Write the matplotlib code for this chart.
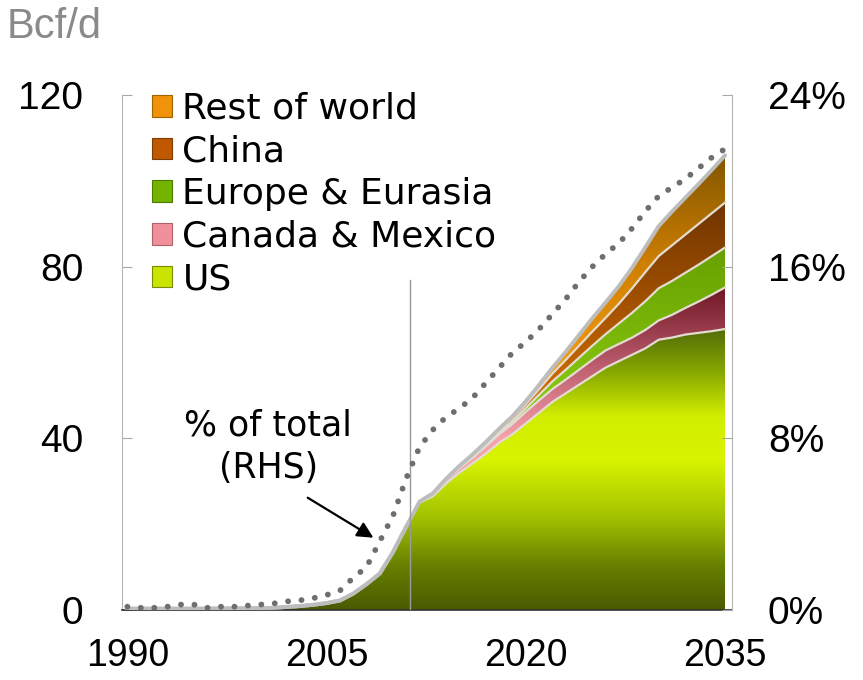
import numpy as np
import matplotlib
matplotlib.use("Agg")
import matplotlib.pyplot as plt
from matplotlib.colors import LinearSegmentedColormap
from matplotlib.patches import Patch

plt.rcParams['font.family'] = ['Liberation Sans', 'DejaVu Sans']

years = list(range(1990, 2036))

us = [0.3, 0.3, 0.3, 0.3, 0.3, 0.3, 0.3, 0.35, 0.35, 0.4,
      0.4, 0.5, 0.7, 0.9, 1.2, 1.6, 2.2, 3.8, 6.0, 8.5,
      13.5, 19.5, 25.0, 26.5, 29.5, 32.0, 34.2, 36.5, 39.0, 41.0,
      43.5, 46.0, 48.5, 50.5, 52.5, 54.5, 56.5, 58.0, 59.5, 61.0,
      63.0, 63.5, 64.2, 64.6, 65.0, 65.5]
canada_mexico = [0.0] * 22 + [0.2, 0.4, 0.7, 1.0, 1.3, 1.7, 2.0, 2.4,
                              2.7, 2.9, 3.0, 3.2, 3.5, 3.8, 4.0, 4.0, 4.0, 4.3,
                              4.5, 5.3, 6.2, 7.3, 8.5, 9.7]
europe_eurasia = [0.0] * 22 + [0.0, 0.1, 0.1, 0.2, 0.2, 0.3, 0.4, 0.6,
                               0.9, 1.3, 1.8, 2.3, 2.8, 3.3, 3.8, 4.8, 5.8, 6.7,
                               7.5, 7.9, 8.2, 8.6, 9.0, 9.3]
china = [0.0] * 22 + [0.0, 0.1, 0.1, 0.2, 0.3, 0.4, 0.5, 0.7,
                      0.9, 1.3, 1.8, 2.3, 2.8, 3.3, 3.8, 4.6, 5.7, 6.8,
                      7.5, 8.3, 8.9, 9.5, 10.0, 10.5]
rest_of_world = [0.0] * 22 + [0.1, 0.1, 0.2, 0.2, 0.3, 0.3, 0.4, 0.5,
                              0.7, 1.0, 1.4, 1.9, 2.5, 3.1, 3.6, 4.1, 4.8, 5.8,
                              7.0, 7.9, 8.6, 9.3, 10.1, 11.0]
pct_of_total = [0.15, 0.1, 0.1, 0.15, 0.25, 0.25, 0.1, 0.15, 0.15, 0.2,
                0.25, 0.3, 0.4, 0.45, 0.55, 0.7, 0.9, 1.5, 2.0, 3.2,
                4.4, 6.15, 7.6, 8.4, 9.0, 9.4, 9.9, 10.6, 11.3, 12.0,
                12.5, 13.1, 13.8, 14.5, 15.3, 16.0, 16.6, 17.1, 17.8, 18.6,
                19.3, 19.7, 20.1, 20.6, 21.1, 21.5]

series_names = ["US", "Canada & Mexico", "Europe & Eurasia", "China", "Rest of world"]
series_values = [us, canada_mexico, europe_eurasia, china, rest_of_world]

# gradient stops (data value, colour) for each layer
gradients = [
    [(0, '#4a5a00'), (10, '#667f00'), (22, '#a4c400'), (35, '#d8f400'),
     (45, '#d2ee00'), (55, '#8aaa00'), (66, '#4e690a')],
    [(40, '#f6a2aa'), (55, '#c46474'), (76, '#6a1220')],
    [(45, '#8ccc10'), (85, '#66a000')],
    [(50, '#d26c00'), (95, '#6e3400')],
    [(55, '#f59c12'), (80, '#d08000'), (107, '#7e5400')],
]
legend_colors = ['#c8e400', '#f0909a', '#74b400', '#c05800', '#f0920a']
legend_edges = ['#7c8c00', '#b06068', '#4e7c00', '#7c3c00', '#a06400']

fig = plt.figure(figsize=(8.63, 6.8), dpi=100)
ax = fig.add_axes([0.1414, 0.103, 0.7066, 0.757])
x = np.array(years, dtype=float)
ax.set_xlim(1989.6, 2035.5)
ax.set_ylim(0, 120)

base = np.zeros(len(years))
for vals, stops in zip(series_values, gradients):
    v = np.array(vals, dtype=float)
    top = base + v
    poly = ax.fill_between(x, base, top, facecolor='none', edgecolor='none', zorder=2)
    lo, hi = stops[0][0], stops[-1][0]
    cmap = LinearSegmentedColormap.from_list(
        'g', [((s - lo) / (hi - lo), c) for s, c in stops])
    grad = np.linspace(0, 1, 256).reshape(-1, 1)
    path = poly.get_paths()[0]
    img = ax.imshow(grad, cmap=cmap, aspect='auto', origin='lower',
                    extent=[x[0], x[-1], lo, hi], zorder=2,
                    interpolation='bilinear')
    img.set_clip_path(path, ax.transData)
    if lo > 0:
        img2 = ax.imshow(np.zeros((2, 1)), cmap=cmap, vmin=0, vmax=1, aspect='auto',
                         origin='lower', extent=[x[0], x[-1], 0, lo + 0.01], zorder=2)
        img2.set_clip_path(path, ax.transData)
    base = top

# separator lines between layers
base = np.zeros(len(years))
for i, vals in enumerate(series_values):
    base = base + np.array(vals, dtype=float)
    if i < len(series_values) - 1:
        ax.plot(x[21:], base[21:], color='#e2dcd2', lw=1.6, zorder=3)
ax.plot(x, base, color='#bdbdbd', lw=2.8, zorder=3, solid_capstyle='round')
ax.plot(x[:22], (np.array(us))[:22], color='#bdbdbd', lw=2.8, zorder=3)

ax.plot([2011.3, 2011.3], [0, 77], color='#9a9a9a', lw=1.0, zorder=4)

ax.set_xticks([1990, 2005, 2020, 2035])
ax.set_xticklabels(['1990', '2005', '2020', '2035'])
ax.set_yticks([0, 40, 80, 120])
ax.tick_params(axis='x', length=0, pad=20, labelsize=27)
ax.tick_params(axis='y', direction='in', length=7, color='#a8a8a8', pad=28, labelsize=28)
for s in ['top', 'right']:
    ax.spines[s].set_visible(False)
ax.spines['left'].set_color('#b4b4b4')
ax.spines['bottom'].set_color('#303030')
ax.spines['bottom'].set_linewidth(1.2)

ax2 = ax.twinx()
ax2.set_ylim(0, 24)
ax2.set_yticks([0, 8, 16, 24])
ax2.set_yticklabels(['0%', '8%', '16%', '24%'])
ax2.tick_params(axis='y', direction='in', length=7, color='#a8a8a8', pad=26, labelsize=28)
for s in ['top', 'left', 'bottom']:
    ax2.spines[s].set_visible(False)
ax2.spines['right'].set_color('#b4b4b4')
ax2.plot(x, pct_of_total, color='#6e6e70', lw=4.2, linestyle=(0, (0.01, 2.3)),
         dash_capstyle='round', zorder=5)

ax2.annotate('', xy=(2008.7, 3.3), xytext=(2003.4, 5.3),
             arrowprops=dict(arrowstyle='-|>', color='black', lw=1.6,
                             mutation_scale=24))
ax2.text(2000.6, 7.6, '% of total\n(RHS)', ha='center', va='center', fontsize=25,
         linespacing=1.3, family=['DejaVu Sans'])

handles = [Patch(facecolor=legend_colors[i], edgecolor=legend_edges[i], lw=0.8)
           for i in range(4, -1, -1)]
labels = [series_names[i] for i in range(4, -1, -1)]
leg = ax.legend(handles, labels, loc='upper left', bbox_to_anchor=(0.025, 1.035),
                frameon=False, prop={'family': 'DejaVu Sans', 'size': 26},
                handlelength=0.55, handleheight=0.55,
                handletextpad=0.3, labelspacing=0.24, borderaxespad=0)

fig.text(0.008, 0.99, 'Bcf/d', ha='left', va='top', fontsize=30, color='#8a8a8a')

fig.savefig('out.png', dpi=100)
